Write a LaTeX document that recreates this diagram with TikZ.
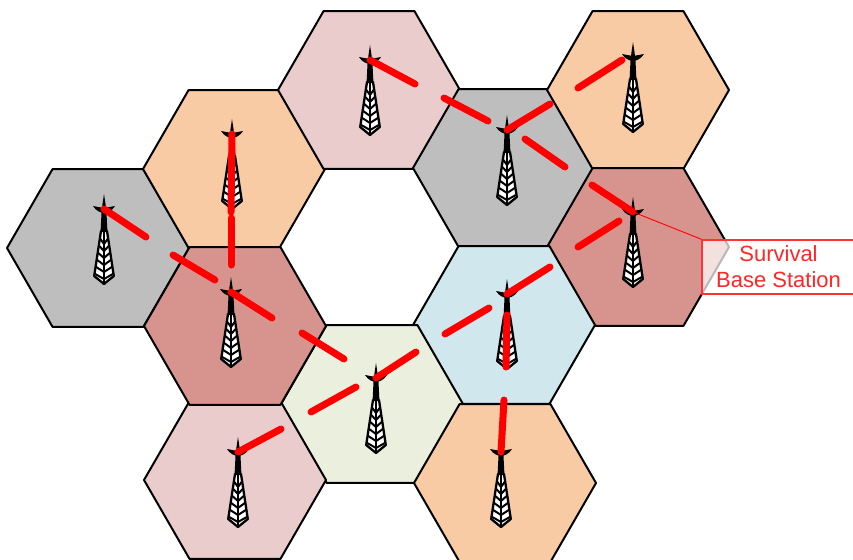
\documentclass[tikz,border=0pt]{standalone}
\usepackage{fontspec}
\setmainfont{Liberation Sans}
\usetikzlibrary{shapes.geometric}

\definecolor{hexgray}{RGB}{190,190,190}
\definecolor{hexorange}{RGB}{249,203,165}
\definecolor{hexpink}{RGB}{234,204,204}
\definecolor{hexred}{RGB}{215,148,142}
\definecolor{hexblue}{RGB}{208,231,238}
\definecolor{hexolive}{RGB}{235,240,222}
\definecolor{linkred}{RGB}{255,0,0}

\tikzset{
  tower/.pic={
    % mast
    \fill[black] (0,-15) -- (1.5,-5) -- (2.5,4) -- (3.5,24) -- (-3.5,24) -- (-2.5,4) -- (-1.5,-5) -- cycle;
    % lattice
    \draw[black, line width=2.3pt, line join=round, fill=white] (-3,22) -- (3,22) -- (9.8,67) -- (0,75) -- (-9.8,67) -- cycle;
    \draw[black, line width=2pt] (0,22) -- (0,75);
    \foreach \y/\w in {30/3.6, 37/4.7, 44/5.7, 51/6.8, 58/7.8, 65/8.8} {
      \draw[black, line width=2pt] (-\w,\y) -- (0,\y+5) -- (\w,\y);
    }
    % arms
    \fill[black] (-11,-3) .. controls (-6,-2) and (-3,-1.5) .. (0,-1) .. controls (3,-1.5) and (6,-2) .. (11,-3)
      .. controls (8,2) and (3,4) .. (0,4) .. controls (-3,4) and (-8,2) .. (-11,-3) -- cycle;
  }
}

\begin{document}
\begin{tikzpicture}[
  x=1pt, y=-1pt,
  cell/.style={regular polygon, regular polygon sides=6, draw=black, line width=2pt,
    minimum size=182pt, inner sep=0pt, line join=round},
  link/.style={draw=linkred, line width=7pt, line cap=round},
  callout/.style={draw=linkred!80, line width=1.6pt, fill=white, fill opacity=0.72, text opacity=1,
    minimum width=153pt, minimum height=54pt, inner sep=0pt, align=center, text=linkred!85,
    font=\fontsize{22}{26}\selectfont}
]

\useasboundingbox (0,0) rectangle (853,559);

\node[cell, fill=hexgray] (C1) at (98,248) {};
\node[cell, fill=hexorange] (C2) at (234,169) {};
\node[cell, fill=hexpink] (C3) at (369,90) {};
\node[cell, fill=hexgray] (C4) at (504,168) {};
\node[cell, fill=hexorange] (C5) at (638,90) {};
\node[cell, fill=hexred] (C6) at (638,247) {};
\node[cell, fill=hexblue] (C7) at (504,325) {};
\node[cell, fill=hexolive] (C8) at (372,404) {};
\node[cell, fill=hexorange] (C9) at (505,483) {};
\node[cell, fill=hexpink] (C10) at (235,480) {};
\node[cell, fill=hexred] (C11) at (235,326) {};

\foreach \t/\x/\y in {
  T1/104/209, T2/232/134, T3/370/60, T4/507/130, T5/633/57,
  T6/633/212, T7/507/294, T8/376/378, T9/501/452, T10/238/452, T11/231/292} {
  \coordinate (\t) at (\x,\y);
  \pic at (\t) {tower};
}

% links that start at a tower
\draw[link] (T1) -- (146,237);
\draw[link] (T2) -- (231,212);
\draw[link] (T3) -- (415,84);
\draw[link] (T4) -- (550,104);
\draw[link] (T6) -- (592,185);
\draw[link] (T7) -- (550,267);
\draw[link] (507,315) -- (506,367);
\draw[link] (T8) -- (416,352);
\draw[link] (T9) -- (504,400);
\draw[link] (T10) -- (281,429);
\draw[link] (T11) -- (272,318);

% links that stop short
\foreach \ax/\ay/\bx/\by in {
  444/98/488/121, 525/139/565/167, 578/88/622/60, 578/247/619/221,
  445/334/489/308, 311/412/356/387, 302/333/344/359, 173/255/215/280,
  231/218/231/265} {
  \draw[link] (\ax,\ay) -- (\bx,\by);
}

\node[callout] (Survival) at (778.5,267) {Survival\\Base Station};
\draw[draw=linkred, line width=0.9pt] (T6) -- (Survival.north west);

\end{tikzpicture}
\end{document}
